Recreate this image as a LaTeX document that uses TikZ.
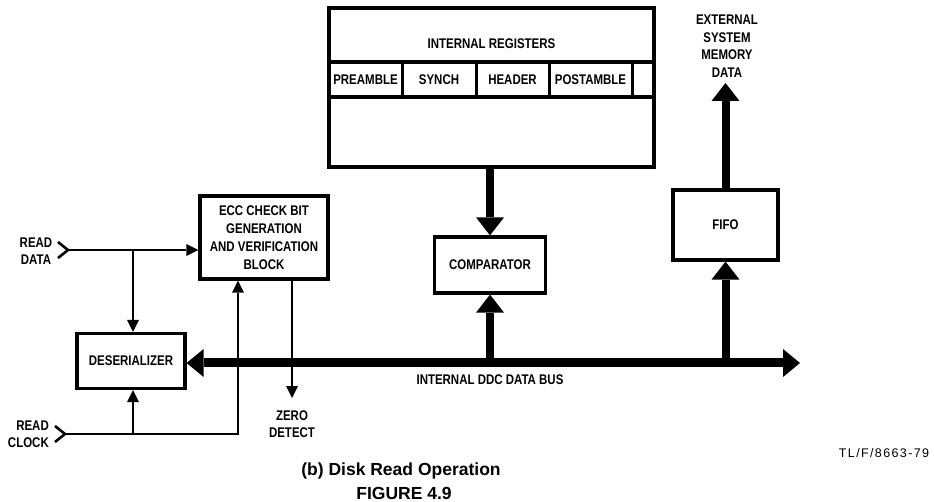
\documentclass[tikz,border=0pt]{standalone}
\usepackage{fontspec}
\setmainfont{Liberation Sans}
\newfontfamily\condfont{Liberation Sans}[FakeStretch=0.82]
\usetikzlibrary{arrows.meta}

\begin{document}
\begin{tikzpicture}[x=1pt, y=-1pt,
    blk/.style={draw, line width=3.2pt, inner sep=0pt, align=center,
                font=\condfont\bfseries\fontsize{14}{18}\selectfont},
    lbl/.style={inner sep=0pt, align=center,
                font=\condfont\bfseries\fontsize{14}{17.5}\selectfont},
    chev/.style={line width=2.6pt, line join=miter},
    sig/.style={line width=2.5pt, -{Triangle[length=12pt,width=12pt,line width=0pt]}},
    fat/.style={line width=8pt, -{Triangle[length=18pt,width=28pt,line width=0pt]}},
    bus/.style={line width=9pt, {Triangle[length=17pt,width=28pt,line width=0pt]}-{Triangle[length=17pt,width=28pt,line width=0pt]}}]
    \useasboundingbox (0,0) rectangle (934,502);
    \node[blk, minimum width=325pt, minimum height=159pt] (regs) at (491.5,87.5) {};
    \node[lbl] (regtitle) at (491.5,44) {INTERNAL REGISTERS};
    \draw[line width=3.2pt] (329,62) -- (654,62);
    \draw[line width=3.2pt] (329,97) -- (654,97);
    \foreach \x in {402, 476, 549, 632} \draw[line width=3pt] (\x,62) -- (\x,97);
    \foreach \cx/\reg in {365.5/PREAMBLE, 439/SYNCH, 512.5/HEADER, 590.5/POSTAMBLE}
      \node[lbl] (\reg) at (\cx, 79.5) {\reg};
    \node[blk, minimum width=128pt, minimum height=83pt] (ecc) at (264,237.5)
      {ECC CHECK BIT\\GENERATION\\AND VERIFICATION\\BLOCK};
    \node[blk, minimum width=108pt, minimum height=55pt] (deser) at (131,361) {DESERIALIZER};
    \node[blk, minimum width=111pt, minimum height=56pt] (comp) at (490,265) {COMPARATOR};
    \node[blk, minimum width=105pt, minimum height=70pt] (fifo) at (725.5,225) {FIFO};
    \coordinate (busend) at (800,363);
    \coordinate (ext) at (725.5,83);
    \draw[bus] (busend -| deser.east) -- (busend);
    \draw[fat] (regs.south -| comp) -- (comp.north);
    \draw[fat] (comp |- busend) -- (comp.south);
    \draw[fat] (fifo |- busend) -- (fifo.south);
    \draw[fat] (fifo.north) -- (ext);
    \node[lbl] (extlbl) at (727,46) {EXTERNAL\\SYSTEM\\MEMORY\\DATA};
    \node[lbl] (buslbl) at (490,380) {INTERNAL DDC DATA BUS};
    \coordinate (rdin) at (68,250);
    \coordinate (rdtap) at (133,250);
    \coordinate (rcin) at (65,434);
    \coordinate (rcbend) at (238,434);
    \coordinate (zd) at (292,398);
    \draw[chev] (58,242) -- (rdin) -- (58,258);
    \draw[chev] (55,426) -- (rcin) -- (55,442);
    \draw[sig] (rdin) -- (rdin -| ecc.west);
    \draw[sig] (rdtap) -- (rdtap |- deser.north);
    \draw[sig] (rcin) -- (rcbend) -- (rcbend |- ecc.south);
    \draw[sig] (rcin -| rdtap) -- (rdtap |- deser.south);
    \draw[sig] (zd |- ecc.south) -- (zd);
    \node[lbl] (rdlbl) at (36,251) {READ\\DATA};
    \node[lbl, align=right, anchor=east] (rclbl) at (49,434.5) {READ\\CLOCK};
    \node[lbl] (zdlbl) at (292,424) {ZERO\\DETECT};
    \node[font=\bfseries\fontsize{17.5}{21}\selectfont, inner sep=0pt] (caption) at (401,471) {(b) Disk Read Operation};
    \node[font=\bfseries\fontsize{17.5}{21}\selectfont, inner sep=0pt] (fignum) at (404,493) {FIGURE 4.9};
    \node[font=\fontsize{12.5}{15}\selectfont\addfontfeatures{LetterSpace=11}, inner sep=0pt] (tlf) at (884,453) {TL/F/8663-79};
\end{tikzpicture}
\end{document}
